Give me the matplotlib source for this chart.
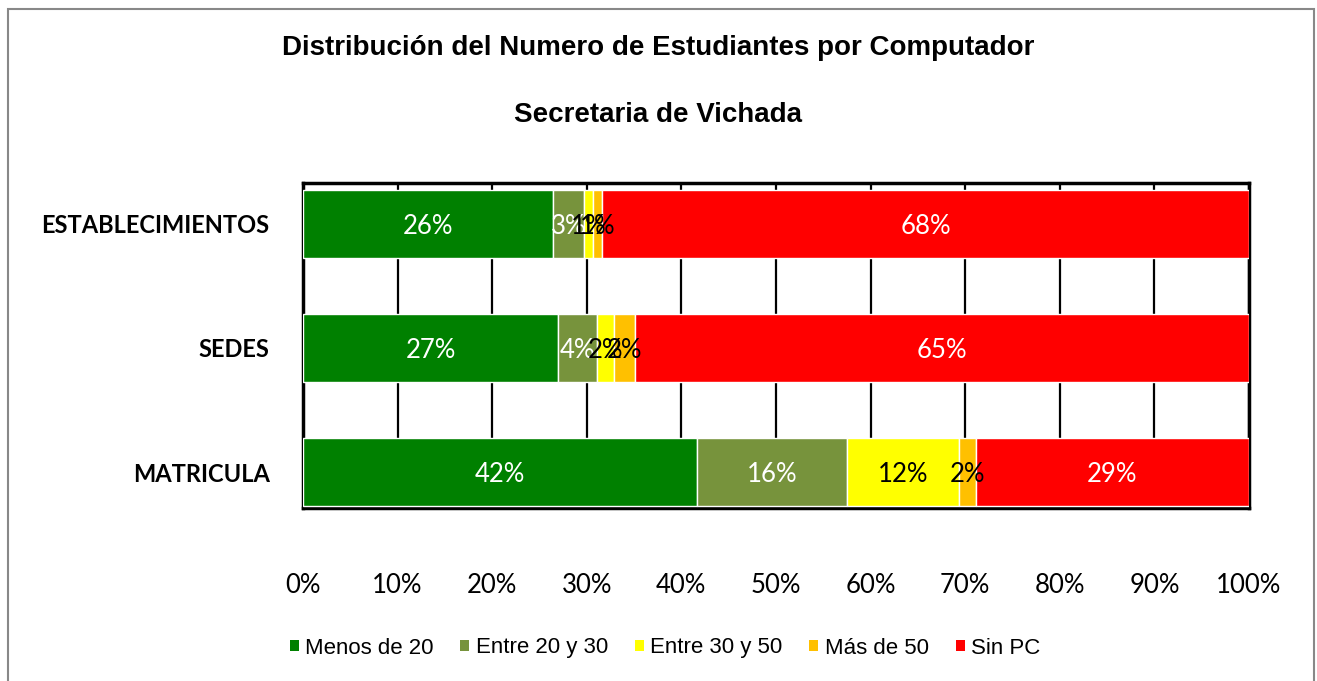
import matplotlib.pyplot as plt
from matplotlib.patches import Rectangle
import numpy as np

# categories from bottom to top
categories = ["MATRICULA", "SEDES", "ESTABLECIMIENTOS"]
series_names = ["Menos de 20", "Entre 20 y 30", "Entre 30 y 50", "Más de 50", "Sin PC"]
menos_20 = [41.6, 27.0, 26.4]
entre_20_30 = [15.9, 4.1, 3.3]
entre_30_50 = [11.8, 1.8, 1.0]
mas_50 = [1.8, 2.2, 0.9]
sin_pc = [28.9, 64.9, 68.4]
x_ticks = list(range(0, 101, 10))

colors = ["#008000", "#77933C", "#FFFF00", "#FFC000", "#FF0000"]
label_colors = ["white", "white", "black", "black", "white"]

series = [menos_20, entre_20_30, entre_30_50, mas_50, sin_pc]

fig = plt.figure(figsize=(13.17, 6.81), dpi=100)
ax = fig.add_axes([303 / 1317, 1 - 508 / 681, 946 / 1317, 325 / 681])

y = np.arange(len(categories))
left = np.zeros(len(categories))
for vals, name, col, lcol in zip(series, series_names, colors, label_colors):
    vals = np.array(vals)
    ax.barh(y, vals, left=left, height=0.55, color=col, edgecolor="white",
            linewidth=1, label=name, zorder=3)
    for yi, v, l in zip(y, vals, left):
        ax.text(l + v / 2, yi, "%d%%" % round(v), ha="center", va="center_baseline",
                color=lcol, fontsize=18.5, family="Lato", zorder=4)
    left = left + vals

ax.set_xlim(0, 100)
ax.set_ylim(-0.29, 2.33)
ax.set_xticks(x_ticks)
ax.set_xticklabels(["%d%%" % t for t in x_ticks], family="Lato", fontsize=18.5)
ax.set_yticks(y)
ax.set_yticklabels(categories, fontweight="bold", family="Lato", fontsize=17)
ax.tick_params(axis="x", length=0, pad=47)
ax.tick_params(axis="y", length=0, pad=24)
ax.grid(axis="x", color="black", linewidth=1.6, zorder=0)
for s in ax.spines.values():
    s.set_linewidth(2.5)
    s.set_color("black")

fig.text(0.5, 1 - 48 / 681, "Distribución del Numero de Estudiantes por Computador",
         ha="center", va="center", fontsize=20, fontweight="bold", family="Liberation Sans")
fig.text(0.5, 1 - 115 / 681, "Secretaria de Vichada",
         ha="center", va="center", fontsize=20, fontweight="bold", family="Liberation Sans")

leg = fig.legend(loc="center", bbox_to_anchor=(0.505, 1 - 648 / 681), ncol=5, frameon=False,
                 handlelength=0.4, handleheight=0.4, handletextpad=0.3, columnspacing=1.2,
                 prop={"family": "Liberation Sans", "size": 16})
for h in leg.legend_handles:
    h.set_linewidth(0)

fig.patches.append(Rectangle((8 / 1317, -0.05), 1306 / 1317, 1.05 - 9 / 681,
                             transform=fig.transFigure, fill=False,
                             edgecolor="#888888", linewidth=1.5))

fig.savefig("out.png", dpi=100)
